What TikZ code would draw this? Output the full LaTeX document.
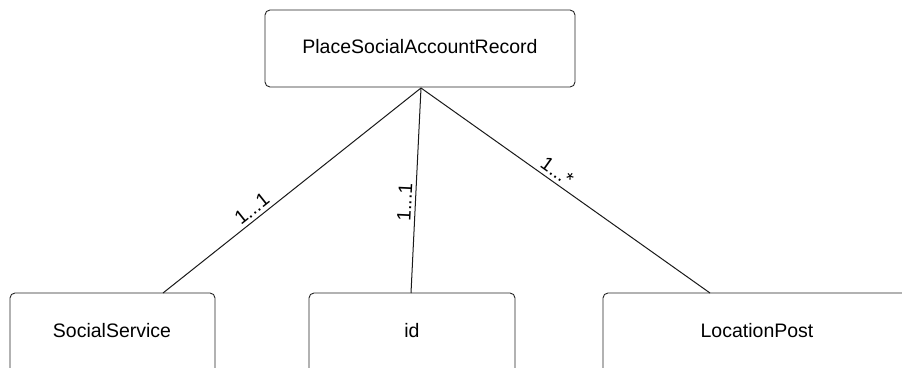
\documentclass[tikz,border=0pt]{standalone}
\usepackage{fontspec}
\setmainfont{Liberation Sans}
\begin{document}
\begin{tikzpicture}[x=1pt,y=-1pt,
  entity/.style={draw=black!85,line width=0.9pt,rounded corners=5pt},
  link/.style={draw=black!90,line width=1pt},
  mult/.style={font=\fontsize{19.5}{22}\selectfont,sloped,above,inner sep=3.5pt},
  every node/.style={font=\fontsize{19.5}{23}\selectfont}]
\useasboundingbox (0,0) rectangle (902,367);
% entity boxes (bottom row runs past the lower edge)
\draw[entity] (265,10) rectangle (575,87);
\node (rec) at (420,47) {PlaceSocialAccountRecord};
\coordinate (apex) at (421,88);
\draw[entity] (10,293) rectangle (215,400);
\node (ss) at (112,331) {SocialService};
\coordinate (ssTop) at (163,293);
\draw[entity] (309,293) rectangle (515,400);
\node (id) at (412,331) {id};
\coordinate (idTop) at (411,293);
\draw[entity] (603,293) rectangle (912,400);
\node (lp) at (757,331) {LocationPost};
\coordinate (lpTop) at (710,293);
% associations with multiplicities
\draw[link] (apex) -- node[mult,pos=0.63] {1...1} (ssTop);
\draw[link] (apex) -- node[mult,pos=0.56] {1...1} (idTop);
\draw[link] (apex) -- node[mult,pos=0.45] {1...*} (lpTop);
\end{tikzpicture}
\end{document}
